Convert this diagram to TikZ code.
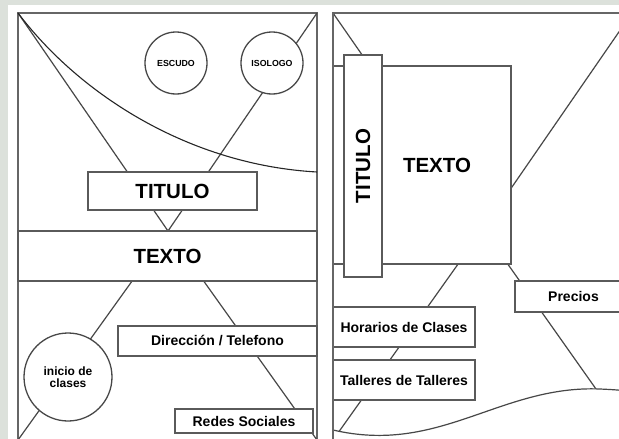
\documentclass[tikz,border=0pt]{standalone}
\usepackage{fontspec}
\setmainfont{Liberation Sans}
\definecolor{frameC}{HTML}{666666}
\definecolor{lineC}{HTML}{474747}
\definecolor{boxC}{HTML}{5a5a5a}
\definecolor{bgC}{HTML}{DCE1DB}
\begin{document}
\begin{tikzpicture}[x=1pt,y=-1pt,
  framest/.style={draw=frameC, line width=1.5pt},
  diag/.style={draw=lineC, line width=1.2pt},
  boxst/.style={draw=boxC, line width=1.4pt, fill=white, rectangle, inner sep=0pt, text=black, font=\bfseries\fontsize{14}{15}\selectfont},
  circst/.style={draw=lineC, line width=1.3pt, fill=white, circle, inner sep=0pt, text=black},
  big/.style={font=\bfseries\fontsize{20.5}{22}\selectfont},
  small/.style={font=\bfseries\fontsize{8.8}{10}\selectfont}
]
\useasboundingbox (0,0) rectangle (619,439);
\clip (0,0) rectangle (619,439);
\fill[bgC] (0,0) rectangle (619,439);
\fill[white] (8,5) rectangle (619,439);

% ---------- left panel ----------
\coordinate (LTL) at (18,13);
\coordinate (LTR) at (317,13);
\coordinate (LBL) at (18,440);
\coordinate (LBR) at (317,440);
\coordinate (LC) at (168,231);
\coordinate (LCe) at (317,172);
\draw[framest] (LTL) rectangle (317,445);
\draw[diag] (LTL) -- (LC) -- (LTR);
\draw[diag] (LBL) -- (LC) -- (LBR);
\draw[draw=black!85, line width=1.1pt] (LTL) .. controls (80,95) and (190,165) .. (LCe);

\node[circst, small, minimum size=62pt] (escudo) at (176,63) {ESCUDO};
\node[circst, small, minimum size=62pt] (isologo) at (272,63) {ISOLOGO};
\node[boxst, big, minimum width=169pt, minimum height=38pt] (tituloL) at (172.5,191) {TITULO};
\node[boxst, big, minimum width=299pt, minimum height=50pt] (textoL) at (167.5,256) {TEXTO};
\node[circst, align=center, font=\bfseries\fontsize{12}{11.5}\selectfont, minimum size=88pt] (inicio) at (68,377) {inicio de\\clases};
\node[boxst, minimum width=199pt, minimum height=30pt] (dir) at (217.5,341) {Dirección / Telefono};
\node[boxst, minimum width=138pt, minimum height=24pt] (redes) at (244,421) {Redes Sociales};

% ---------- right panel ----------
\coordinate (RTL) at (333,13);
\coordinate (RTR) at (632,13);
\coordinate (RBL) at (333,440);
\coordinate (RBR) at (632,440);
\coordinate (RC) at (483,229);
\draw[framest] (RTL) rectangle (632,445);
\draw[diag] (RTL) -- (RC) -- (RTR);
\draw[diag] (RBL) -- (RC) -- (RBR);

\node[boxst, minimum width=178pt, minimum height=198pt] (textoR) at (422,165) {};
\node[big, text=black] (textoRlbl) at (437,165) {TEXTO};
\node[boxst, big, minimum width=38pt, minimum height=222pt] (tituloR) at (363,166) {\rotatebox{90}{TITULO}};
\node[boxst, minimum width=117pt, minimum height=31pt] (precios) at (573.5,296.5) {Precios};
\node[boxst, minimum width=142pt, minimum height=40pt] (horarios) at (404,327) {Horarios de Clases};
\node[boxst, minimum width=142pt, minimum height=40pt] (talleres) at (404,380) {Talleres de Talleres};

\coordinate (W0) at (333,430);
\coordinate (W1) at (600,389);
\coordinate (W2) at (640,393);
\fill[white] (W0) .. controls (440,455) and (500,385) .. (W1) .. controls (620,390) .. (W2) -- (640,445) -- (333,445) -- cycle;
\draw[diag] (W0) .. controls (440,455) and (500,385) .. (W1) .. controls (620,390) .. (W2);
\draw[framest] (RBL) -- (RTL);
\end{tikzpicture}
\end{document}
